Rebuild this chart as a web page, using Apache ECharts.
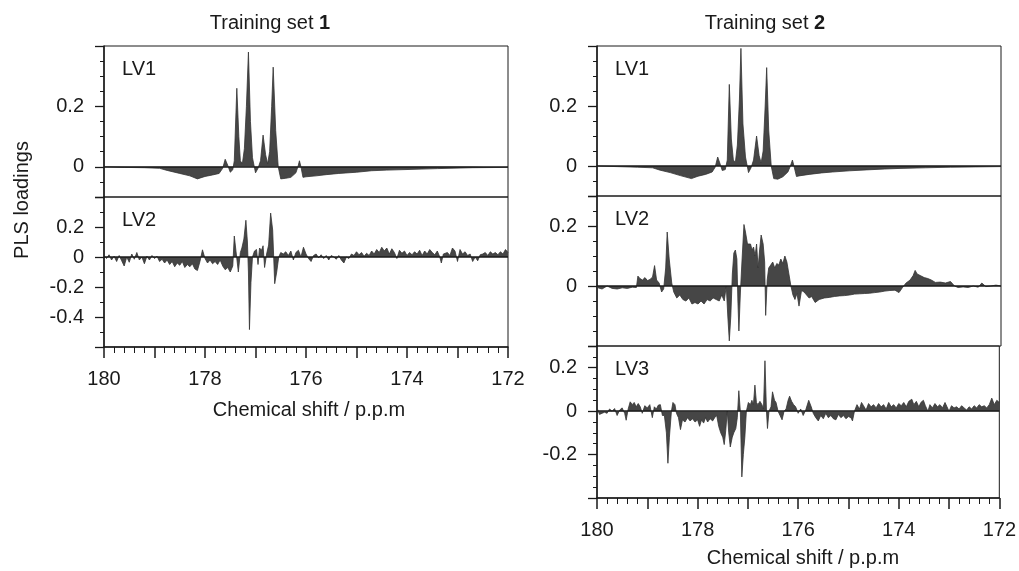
<!DOCTYPE html>
<html>
<head>
<meta charset="utf-8">
<title>PLS loadings</title>
<script src="https://cdn.jsdelivr.net/npm/echarts@6.0.0/dist/echarts.min.js"></script>
<style>
html, body { margin: 0; padding: 0; background: #fff; }
#main { width: 1019px; height: 571px; }
</style>
</head>
<body>
<div id="main"></div>
<script>
// [ppm, loading]
var set1Lv1 = [
    [180.00, 0.000], [179.60, -0.002], [179.20, -0.003], [178.90, -0.005], [178.75, -0.012],
    [178.50, -0.022], [178.30, -0.030], [178.15, -0.040], [178.00, -0.032], [177.85, -0.027],
    [177.72, -0.022], [177.65, -0.005], [177.60, 0.025], [177.55, 0.005], [177.50, -0.018],
    [177.45, -0.010], [177.42, 0.020], [177.37, 0.260], [177.33, 0.100], [177.30, 0.020],
    [177.26, 0.010], [177.22, 0.060], [177.18, 0.200], [177.14, 0.380], [177.10, 0.150],
    [177.06, 0.030], [177.00, -0.020], [176.95, -0.005], [176.90, 0.020], [176.85, 0.105],
    [176.80, 0.040], [176.76, 0.010], [176.72, 0.050], [176.68, 0.200], [176.65, 0.330],
    [176.60, 0.120], [176.55, 0.000], [176.50, -0.040], [176.40, -0.038], [176.30, -0.035],
    [176.20, -0.020], [176.16, 0.000], [176.13, 0.020], [176.10, 0.000], [176.06, -0.035],
    [176.00, -0.033], [175.80, -0.030], [175.60, -0.026], [175.35, -0.022], [175.00, -0.018],
    [174.70, -0.013], [174.40, -0.011], [174.00, -0.009], [173.40, -0.006], [172.70, -0.003],
    [172.00, -0.002]
];

var set1Lv2 = [
    [180.00, 0.010], [179.95, -0.010], [179.90, 0.015], [179.85, -0.020], [179.80, 0.005],
    [179.75, -0.030], [179.70, 0.010], [179.65, -0.025], [179.60, -0.060], [179.55, 0.000],
    [179.50, -0.035], [179.45, 0.020], [179.40, -0.015], [179.35, 0.030], [179.30, -0.020],
    [179.25, 0.000], [179.20, -0.045], [179.15, 0.005], [179.10, -0.020], [179.05, 0.010],
    [179.00, -0.010], [178.95, 0.005], [178.90, -0.030], [178.85, -0.015], [178.80, -0.040],
    [178.75, -0.020], [178.70, -0.050], [178.65, -0.030], [178.60, -0.065], [178.55, -0.040],
    [178.50, -0.055], [178.45, -0.030], [178.40, -0.070], [178.35, -0.050], [178.30, -0.065],
    [178.25, -0.045], [178.20, -0.080], [178.15, -0.090], [178.10, -0.030], [178.05, 0.048],
    [178.00, -0.010], [177.95, -0.040], [177.90, -0.020], [177.85, -0.045], [177.80, -0.030],
    [177.75, -0.050], [177.70, -0.020], [177.65, -0.060], [177.60, -0.085], [177.55, -0.070],
    [177.50, -0.100], [177.45, -0.060], [177.42, 0.140], [177.38, 0.020], [177.34, -0.100],
    [177.30, 0.030], [177.27, 0.060], [177.23, 0.120], [177.19, 0.245], [177.16, 0.100],
    [177.14, -0.100], [177.12, -0.484], [177.09, -0.170], [177.06, 0.000], [177.02, 0.040],
    [176.98, 0.050], [176.95, -0.050], [176.92, 0.060], [176.88, 0.045], [176.85, 0.075],
    [176.82, -0.070], [176.78, 0.020], [176.74, 0.080], [176.70, 0.293], [176.66, 0.180],
    [176.62, -0.178], [176.58, -0.100], [176.54, 0.000], [176.50, 0.030], [176.45, 0.020],
    [176.40, 0.035], [176.35, 0.010], [176.30, 0.040], [176.25, -0.020], [176.20, 0.030],
    [176.15, 0.045], [176.10, 0.000], [176.05, 0.065], [176.00, 0.020], [175.95, -0.010],
    [175.90, -0.030], [175.85, 0.010], [175.80, 0.020], [175.75, -0.005], [175.70, 0.015],
    [175.65, -0.010], [175.60, 0.010], [175.55, -0.020], [175.50, 0.010], [175.45, 0.000],
    [175.40, -0.015], [175.35, 0.010], [175.30, -0.020], [175.25, -0.040], [175.20, 0.000],
    [175.15, -0.010], [175.10, 0.020], [175.05, 0.010], [175.00, 0.035], [174.95, 0.015],
    [174.90, 0.030], [174.85, 0.005], [174.80, 0.025], [174.75, 0.010], [174.70, 0.040],
    [174.65, 0.020], [174.60, 0.050], [174.55, 0.030], [174.50, 0.065], [174.45, 0.040],
    [174.40, 0.060], [174.35, 0.020], [174.30, 0.055], [174.25, 0.030], [174.20, -0.010],
    [174.15, 0.045], [174.10, 0.025], [174.05, 0.040], [174.00, 0.010], [173.95, 0.030],
    [173.90, 0.015], [173.85, 0.035], [173.80, 0.020], [173.75, 0.045], [173.70, 0.010],
    [173.65, 0.040], [173.60, 0.020], [173.55, 0.050], [173.50, 0.030], [173.45, 0.015],
    [173.40, 0.040], [173.35, 0.000], [173.32, -0.040], [173.28, 0.020], [173.20, 0.030],
    [173.15, 0.010], [173.10, 0.060], [173.05, 0.040], [173.00, -0.030], [172.95, 0.050],
    [172.90, 0.020], [172.85, 0.035], [172.80, 0.010], [172.75, 0.020], [172.70, -0.030],
    [172.65, 0.000], [172.60, -0.025], [172.55, 0.015], [172.50, 0.020], [172.45, 0.030],
    [172.40, 0.010], [172.35, 0.035], [172.30, 0.020], [172.25, 0.030], [172.20, 0.015],
    [172.15, 0.035], [172.10, 0.020], [172.05, 0.050], [172.00, 0.030]
];

var set2Lv1 = [
    [180.00, 0.000], [179.60, -0.002], [179.20, -0.004], [178.90, -0.006], [178.75, -0.014],
    [178.55, -0.022], [178.35, -0.032], [178.13, -0.042], [178.00, -0.034], [177.85, -0.028],
    [177.72, -0.020], [177.66, -0.004], [177.61, 0.030], [177.56, 0.006], [177.52, -0.015],
    [177.46, -0.012], [177.42, 0.020], [177.38, 0.272], [177.34, 0.090], [177.30, 0.020],
    [177.26, 0.012], [177.22, 0.070], [177.18, 0.220], [177.15, 0.392], [177.11, 0.140],
    [177.06, 0.030], [177.00, -0.022], [176.95, -0.006], [176.90, 0.020], [176.84, 0.100],
    [176.79, 0.035], [176.75, 0.010], [176.71, 0.050], [176.67, 0.200], [176.64, 0.328],
    [176.60, 0.120], [176.55, 0.000], [176.50, -0.042], [176.42, -0.044], [176.32, -0.036],
    [176.22, -0.020], [176.17, 0.000], [176.13, 0.020], [176.10, 0.000], [176.05, -0.035],
    [176.00, -0.033], [175.80, -0.028], [175.55, -0.023], [175.34, -0.020], [175.00, -0.016],
    [174.67, -0.013], [174.30, -0.010], [174.00, -0.008], [173.50, -0.006], [173.00, -0.004],
    [172.50, -0.003], [172.00, -0.002]
];

var set2Lv2 = [
    [180.00, -0.005], [179.90, -0.010], [179.80, 0.000], [179.70, -0.008], [179.60, -0.010],
    [179.50, -0.006], [179.40, -0.008], [179.30, -0.004], [179.22, -0.005], [179.19, 0.033],
    [179.15, 0.025], [179.10, 0.020], [179.05, 0.028], [179.00, 0.018], [178.95, 0.022],
    [178.90, 0.030], [178.86, 0.068], [178.82, 0.020], [178.77, 0.010], [178.72, -0.020],
    [178.68, -0.010], [178.64, 0.060], [178.61, 0.180], [178.57, 0.090], [178.52, 0.010],
    [178.48, -0.020], [178.42, -0.040], [178.36, -0.030], [178.30, -0.045], [178.24, -0.050],
    [178.18, -0.040], [178.12, -0.060], [178.06, -0.055], [178.00, -0.060], [177.94, -0.050],
    [177.88, -0.060], [177.82, -0.045], [177.76, -0.050], [177.70, -0.040], [177.64, -0.045],
    [177.58, -0.050], [177.53, -0.030], [177.48, -0.050], [177.44, 0.000], [177.41, -0.100],
    [177.38, -0.183], [177.35, -0.100], [177.32, 0.040], [177.29, 0.110], [177.26, 0.120],
    [177.23, 0.090], [177.21, -0.050], [177.19, -0.150], [177.16, -0.020], [177.13, 0.080],
    [177.09, 0.205], [177.06, 0.180], [177.02, 0.140], [176.99, 0.135], [176.96, 0.140],
    [176.93, 0.120], [176.90, 0.130], [176.87, 0.100], [176.84, 0.140], [176.81, 0.060],
    [176.78, 0.120], [176.75, 0.170], [176.71, 0.140], [176.68, 0.080], [176.66, -0.098],
    [176.63, 0.020], [176.60, 0.060], [176.56, 0.070], [176.52, 0.080], [176.48, 0.060],
    [176.44, 0.075], [176.40, 0.070], [176.36, 0.090], [176.32, 0.075], [176.28, 0.100],
    [176.24, 0.080], [176.20, 0.040], [176.16, 0.000], [176.12, -0.030], [176.08, -0.045],
    [176.04, -0.025], [176.00, -0.067], [175.95, -0.015], [175.90, -0.020], [175.85, -0.030],
    [175.80, -0.040], [175.75, -0.035], [175.68, -0.055], [175.60, -0.045], [175.50, -0.040],
    [175.40, -0.038], [175.30, -0.035], [175.20, -0.033], [175.10, -0.032], [175.00, -0.030],
    [174.90, -0.027], [174.80, -0.026], [174.70, -0.025], [174.60, -0.024], [174.50, -0.022],
    [174.40, -0.020], [174.30, -0.017], [174.20, -0.015], [174.10, -0.014], [174.02, -0.022],
    [173.95, -0.005], [173.88, 0.010], [173.80, 0.020], [173.74, 0.035], [173.70, 0.052],
    [173.66, 0.040], [173.60, 0.035], [173.52, 0.028], [173.45, 0.025], [173.38, 0.020],
    [173.30, 0.012], [173.20, 0.013], [173.10, 0.010], [173.00, 0.015], [172.92, 0.000],
    [172.85, -0.005], [172.75, -0.003], [172.65, -0.005], [172.55, 0.000], [172.45, -0.004],
    [172.38, 0.010], [172.30, -0.002], [172.20, 0.000], [172.10, 0.003], [172.00, 0.000]
];

var set2Lv3 = [
    [180.00, 0.015], [179.95, -0.015], [179.90, -0.010], [179.85, -0.005], [179.80, -0.010],
    [179.75, 0.010], [179.70, 0.000], [179.65, 0.012], [179.60, -0.020], [179.55, 0.005],
    [179.50, 0.015], [179.45, -0.010], [179.42, -0.042], [179.38, 0.010], [179.34, 0.043],
    [179.30, 0.030], [179.26, 0.040], [179.22, 0.020], [179.18, 0.035], [179.14, 0.020],
    [179.10, -0.010], [179.05, 0.025], [179.00, 0.015], [178.95, 0.030], [178.90, -0.030],
    [178.86, 0.020], [178.82, 0.010], [178.78, 0.028], [178.74, 0.030], [178.70, -0.020],
    [178.66, -0.020], [178.62, -0.100], [178.59, -0.240], [178.56, -0.120], [178.52, 0.000],
    [178.49, 0.040], [178.45, 0.030], [178.42, -0.010], [178.38, -0.030], [178.34, -0.085],
    [178.30, -0.040], [178.25, -0.050], [178.20, -0.030], [178.15, -0.045], [178.10, -0.035],
    [178.05, -0.050], [178.00, -0.040], [177.96, -0.070], [177.92, -0.040], [177.88, -0.055],
    [177.84, -0.030], [177.80, -0.050], [177.75, -0.035], [177.70, -0.045], [177.66, -0.030],
    [177.62, -0.020], [177.58, -0.070], [177.54, -0.100], [177.50, -0.120], [177.47, -0.154],
    [177.44, -0.090], [177.41, 0.000], [177.38, -0.100], [177.35, -0.165], [177.31, -0.120],
    [177.28, -0.100], [177.24, -0.080], [177.21, -0.030], [177.18, 0.094], [177.15, 0.000],
    [177.12, -0.303], [177.09, -0.200], [177.06, -0.120], [177.03, 0.000], [176.99, 0.040],
    [176.95, 0.030], [176.92, 0.050], [176.89, 0.030], [176.86, 0.120], [176.83, 0.040],
    [176.80, 0.030], [176.76, 0.045], [176.72, 0.030], [176.69, 0.010], [176.66, 0.232],
    [176.63, 0.000], [176.61, -0.080], [176.58, 0.000], [176.54, 0.020], [176.51, 0.089],
    [176.47, 0.050], [176.44, 0.040], [176.40, 0.000], [176.36, -0.020], [176.32, -0.040],
    [176.28, 0.000], [176.24, 0.010], [176.20, 0.050], [176.17, 0.069], [176.13, 0.045],
    [176.09, 0.030], [176.05, 0.020], [176.00, -0.010], [175.95, 0.010], [175.90, -0.020],
    [175.85, 0.005], [175.79, 0.050], [175.74, 0.020], [175.70, -0.010], [175.65, -0.030],
    [175.60, -0.045], [175.55, -0.020], [175.50, -0.035], [175.45, -0.010], [175.40, -0.030],
    [175.35, -0.020], [175.30, -0.035], [175.25, -0.040], [175.20, -0.015], [175.15, -0.030],
    [175.10, -0.020], [175.05, -0.035], [175.00, -0.025], [174.95, -0.030], [174.92, -0.045],
    [174.88, 0.000], [174.83, 0.030], [174.78, 0.010], [174.74, 0.040], [174.70, 0.025],
    [174.65, 0.005], [174.60, 0.035], [174.55, 0.020], [174.50, 0.030], [174.45, 0.015],
    [174.40, 0.035], [174.35, 0.020], [174.30, 0.030], [174.25, 0.010], [174.20, 0.040],
    [174.15, 0.020], [174.10, 0.030], [174.05, 0.015], [174.00, 0.035], [173.95, 0.025],
    [173.90, 0.040], [173.85, 0.020], [173.80, 0.045], [173.74, 0.055], [173.70, 0.030],
    [173.65, 0.045], [173.60, 0.020], [173.56, 0.040], [173.51, 0.050], [173.47, 0.025],
    [173.42, 0.000], [173.38, 0.030], [173.33, 0.015], [173.28, 0.035], [173.23, 0.020],
    [173.18, 0.030], [173.13, 0.015], [173.08, 0.040], [173.04, 0.020], [173.00, 0.000],
    [172.95, 0.025], [172.90, 0.015], [172.85, 0.020], [172.80, 0.010], [172.75, 0.025],
    [172.70, 0.015], [172.65, 0.005], [172.60, 0.020], [172.55, 0.010], [172.50, 0.025],
    [172.45, 0.015], [172.40, 0.030], [172.35, 0.020], [172.30, 0.025], [172.25, 0.015],
    [172.20, 0.030], [172.15, 0.060], [172.10, 0.030], [172.05, 0.050], [172.00, 0.040]
];

// tick labels
var xLabels = [180, 178, 176, 174, 172];
var set1Lv1Labels = [0, 0.2];
var set1Lv2Labels = [0.2, 0, -0.2, -0.4];
var set2Lv1Labels = [0, 0.2];
var set2Lv2Labels = [0.2, 0];
var set2Lv3Labels = [0.2, 0, -0.2];

var FONT = '"Liberation Sans", Arial, Helvetica, sans-serif';
var FS = 20;
var INK = '#1a1a1a';
var FILL = '#464646';

var panels = [
    {name: 'LV1', data: set1Lv1, labels: set1Lv1Labels, major: [-0.1, 0, 0.2, 0.4], min: -0.1, max: 0.4, step: 0.05,
     grid: {left: 104, top: 46, width: 404, height: 151}, bottom: false},
    {name: 'LV2', data: set1Lv2, labels: set1Lv2Labels, major: [0.4, 0.2, 0, -0.2, -0.4, -0.6], min: -0.6, max: 0.4, step: 0.1,
     grid: {left: 104, top: 197, width: 404, height: 150}, bottom: true},
    {name: 'LV1', data: set2Lv1, labels: set2Lv1Labels, major: [-0.1, 0, 0.2, 0.4], min: -0.1, max: 0.4, step: 0.05,
     grid: {left: 597, top: 46, width: 404, height: 150}, bottom: false},
    {name: 'LV2', data: set2Lv2, labels: set2Lv2Labels, major: [0.3, 0.2, 0, -0.2], min: -0.2, max: 0.3, step: 0.05,
     grid: {left: 597, top: 196, width: 404, height: 150}, bottom: false},
    {name: 'LV3', data: set2Lv3, labels: set2Lv3Labels, major: [0.3, 0.2, 0, -0.2, -0.4], min: -0.4, max: 0.3, step: 0.05,
     grid: {left: 597, top: 346, width: 404, height: 152}, bottom: true}
];

var myLoadingsChart = function () {
    var chart = echarts.init(document.getElementById('main'));
    var grids = [], xAxes = [], yAxes = [], series = [], graphics = [];

    panels.forEach(function (p, i) {
        grids.push({
            left: p.grid.left, top: p.grid.top, width: p.grid.width, height: p.grid.height,
            show: true, borderColor: INK, borderWidth: 1, backgroundColor: 'transparent'
        });

        xAxes.push({
            type: 'value', gridIndex: i, min: 172, max: 180, interval: 1, inverse: true,
            show: p.bottom,
            axisLine: {show: true, onZero: false, lineStyle: {color: INK, width: 1.5}},
            axisTick: {show: true, length: 11, lineStyle: {color: INK, width: 1.5}},
            minorTick: {show: true, splitNumber: 5, length: 6, lineStyle: {color: INK, width: 1}},
            axisLabel: {
                margin: 22, color: INK, fontSize: FS, fontFamily: FONT,
                formatter: function (v) { return xLabels.indexOf(v) >= 0 ? String(v) : ''; }
            },
            splitLine: {show: false}
        });

        // minor ticks + labels
        yAxes.push({
            type: 'value', gridIndex: i, min: p.min, max: p.max, interval: p.step, position: 'left',
            axisLine: {show: true, onZero: false, lineStyle: {color: INK, width: 1.5}},
            axisTick: {show: true, length: 4, lineStyle: {color: INK, width: 1}},
            axisLabel: {
                margin: 20, color: INK, fontSize: FS, fontFamily: FONT,
                formatter: function (v) {
                    for (var k = 0; k < p.labels.length; k++) {
                        if (Math.abs(v - p.labels[k]) < 1e-6) return String(p.labels[k]);
                    }
                    return '';
                }
            },
            splitLine: {show: false}
        });
        // longer major ticks
        yAxes.push({
            type: 'value', gridIndex: i, min: p.min, max: p.max, position: 'left',
            axisLine: {show: false},
            axisTick: {show: true, customValues: p.major, length: 9, lineStyle: {color: INK, width: 1.3}},
            axisLabel: {show: false},
            splitLine: {show: false}
        });

        series.push({
            type: 'line', xAxisIndex: i, yAxisIndex: i * 2,
            data: p.data, showSymbol: false, symbol: 'none', silent: true,
            lineStyle: {color: '#333', width: 0.8},
            areaStyle: {color: FILL, opacity: 1, origin: 0},
            markLine: {
                silent: true, symbol: 'none', label: {show: false},
                lineStyle: {color: INK, width: 1.6, type: 'solid'},
                data: [{yAxis: 0}]
            }
        });

        graphics.push({
            type: 'text', x: p.grid.left + 18, y: p.grid.top + 23,
            style: {text: p.name, font: FS + 'px ' + FONT, fill: INK, align: 'left', verticalAlign: 'middle'}
        });
    });

    // column titles
    var titleRich = {n: {font: FS + 'px ' + FONT, fill: INK}, b: {font: 'bold ' + FS + 'px ' + FONT, fill: INK}};
    graphics.push({
        type: 'text', x: 270, y: 23,
        style: {text: '{n|Training set }{b|1}', align: 'center', verticalAlign: 'middle', rich: titleRich}
    });
    graphics.push({
        type: 'text', x: 765, y: 23,
        style: {text: '{n|Training set }{b|2}', align: 'center', verticalAlign: 'middle', rich: titleRich}
    });
    // axis names
    graphics.push({
        type: 'text', x: 22, y: 200, rotation: Math.PI / 2,
        style: {text: 'PLS loadings', font: FS + 'px ' + FONT, fill: INK, align: 'center', verticalAlign: 'middle'}
    });
    graphics.push({
        type: 'text', x: 309, y: 410,
        style: {text: 'Chemical shift / p.p.m', font: FS + 'px ' + FONT, fill: INK, align: 'center', verticalAlign: 'middle'}
    });
    graphics.push({
        type: 'text', x: 803, y: 558,
        style: {text: 'Chemical shift / p.p.m', font: FS + 'px ' + FONT, fill: INK, align: 'center', verticalAlign: 'middle'}
    });

    chart.setOption({
        animation: false,
        backgroundColor: '#fff',
        grid: grids,
        xAxis: xAxes,
        yAxis: yAxes,
        series: series,
        graphic: graphics
    });
};

myLoadingsChart();
</script>
</body>
</html>
